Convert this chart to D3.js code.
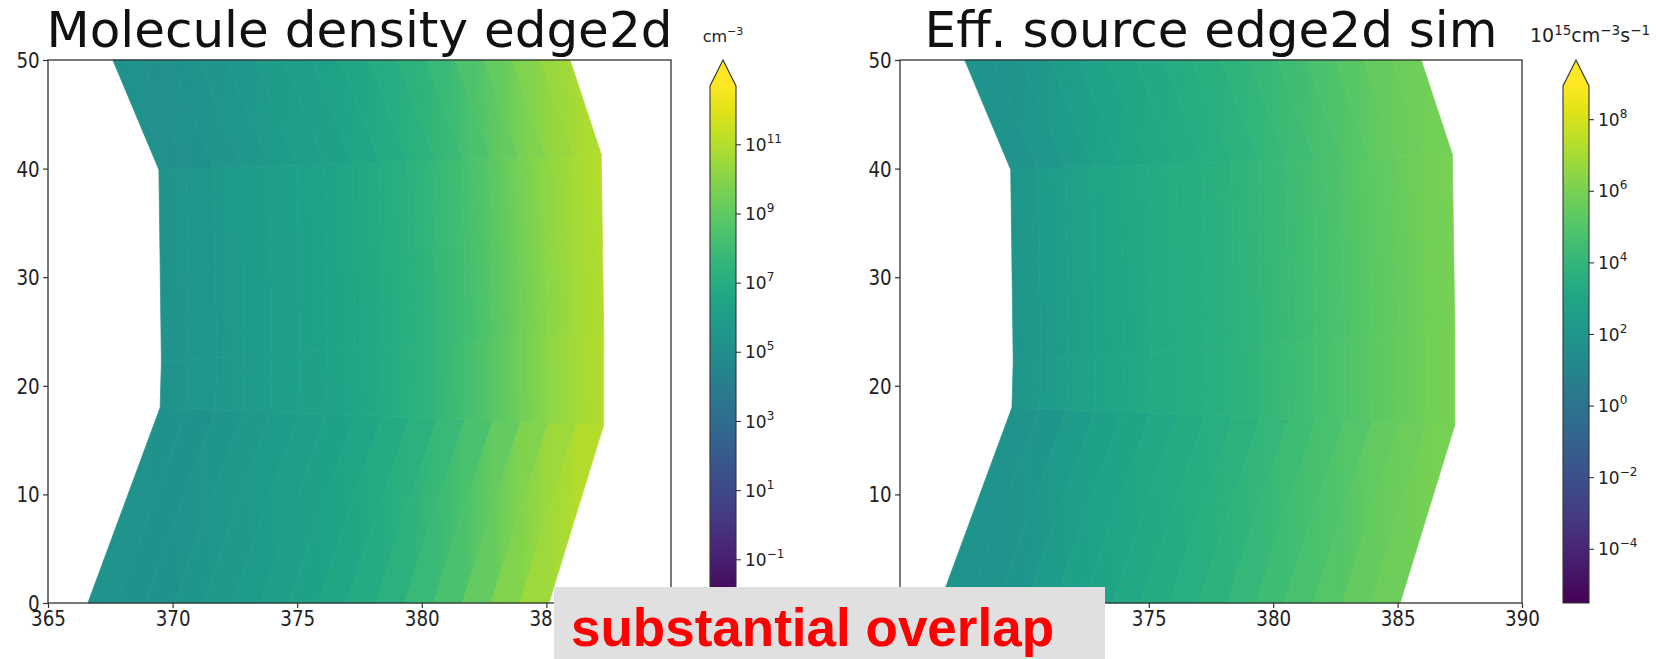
<!DOCTYPE html>
<html><head><meta charset="utf-8">
<script src="https://cdn.jsdelivr.net/npm/d3@7"></script>
<style>html,body{margin:0;padding:0;background:#fff;} svg{display:block;}</style>
</head><body>
<svg id="chart" width="1656" height="659"></svg>
<script>
// ---------------- data ----------------
const xTicks = [365, 370, 375, 380, 385, 390];
const yTicks = [0, 10, 20, 30, 40, 50];
const xDomain = [365, 390];
const yDomain = [0, 50];
const titles = ["Molecule density edge2d", "Eff. source edge2d sim"];
const densityExponents = [-1, 1, 3, 5, 7, 9, 11];
const sourceExponents = [-4, -2, 0, 2, 4, 6, 8];
const densityLogRange = [-2.25, 12.7];
const sourceLogRange = [-5.5, 8.94];
const densityUnit = [["cm", false], ["\u22123", true]];
const sourceUnit = [["10", false], ["15", true], ["cm", false], ["\u22123", true], ["s", false], ["\u22121", true]];
const overlapNote = "substantial overlap";

// mesh bands (y and x of the inner/left and outer/right boundaries)
const bandBottomYL = [0, 18.0, 22.2, 39.9];
const bandTopYL    = [18.0, 22.2, 39.9, 50];
const bandBottomYR = [0, 16.4, 25.0, 41.3];
const bandTopYR    = [16.4, 25.0, 41.3, 50];
const bandBottomXL = [366.6, 369.5, 369.55, 369.45];
const bandTopXL    = [369.5, 369.55, 369.45, 367.6];
const bandBottomXR = [385.1, 387.3, 387.3, 387.2];
const bandTopXR    = [387.3, 387.3, 387.2, 385.95];
const colFrac = [0, 0.0625, 0.125, 0.1875, 0.25, 0.3125, 0.375, 0.4375, 0.5,
                 0.5625, 0.625, 0.6875, 0.75, 0.8125, 0.875, 0.9375, 1];

// log10 values at mesh nodes, per band (bottom -> top)
const densityBand1 = [5.45, 5.3, 5.4, 5.6, 5.8, 5.97, 6.13, 6.3, 6.55, 6.9, 7.3, 7.8, 8.4, 9.1, 9.85, 10.5, 10.95];
const densityBand2 = [5.45, 5.57, 5.7, 5.85, 6.01, 6.17, 6.33, 6.55, 6.85, 7.23, 7.67, 8.17, 8.75, 9.43, 10.1, 10.63, 11.0];
const densityBand3 = [5.45, 5.6, 5.73, 5.87, 6.03, 6.18, 6.35, 6.57, 6.87, 7.25, 7.7, 8.2, 8.77, 9.45, 10.13, 10.65, 11.0];
const densityBand4 = [5.4, 5.25, 5.35, 5.55, 5.75, 5.95, 6.13, 6.33, 6.6, 6.95, 7.35, 7.85, 8.45, 9.1, 9.8, 10.4, 10.85];
const sourceBand1 = [2.0, 1.9, 2.1, 2.4, 2.7, 2.95, 3.15, 3.35, 3.55, 3.8, 4.1, 4.4, 4.75, 5.1, 5.45, 5.72, 5.9];
const sourceBand2 = [2.05, 2.3, 2.6, 2.85, 3.05, 3.25, 3.4, 3.55, 3.75, 4.05, 4.3, 4.6, 4.9, 5.25, 5.55, 5.8, 6.0];
const sourceBand3 = [2.05, 2.32, 2.6, 2.85, 3.05, 3.25, 3.42, 3.57, 3.77, 4.05, 4.3, 4.6, 4.9, 5.25, 5.55, 5.8, 6.0];
const sourceBand4 = [2.0, 1.95, 2.2, 2.5, 2.8, 3.0, 3.2, 3.4, 3.6, 3.85, 4.15, 4.45, 4.8, 5.15, 5.45, 5.7, 5.85];

// ---------------- layout ----------------
const svg = d3.select("#chart");
const defs = svg.append("defs");
const plotTop = 60, plotBottom = 603;
const cbW = 26, cbTop = 86, cbTip = 60;
const panels = [
  {x0: 48, x1: 671, cbx: 710, title: titles[0], bands: [densityBand1, densityBand2, densityBand3, densityBand4],
   range: densityLogRange, exps: densityExponents, unit: densityUnit, unitX: 723, unitSize: 16, unitSup: 11},
  {x0: 900, x1: 1522, cbx: 1563, title: titles[1], bands: [sourceBand1, sourceBand2, sourceBand3, sourceBand4],
   range: sourceLogRange, exps: sourceExponents, unit: sourceUnit, unitX: 1590, unitSize: 19, unitSup: 13.5}
];
const tickFont = "'DejaVu Sans', sans-serif";

panels.forEach((p, pi) => {
  const x = d3.scaleLinear().domain(xDomain).range([p.x0, p.x1]);
  const y = d3.scaleLinear().domain(yDomain).range([plotBottom, plotTop]);
  const color = d3.scaleSequential(d3.interpolateViridis).domain(p.range).clamp(true);
  const g = svg.append("g");

  // mesh cells
  p.bands.forEach((vals, b) => {
    const nodeB = f => [bandBottomXL[b] + f * (bandBottomXR[b] - bandBottomXL[b]),
                        bandBottomYL[b] + f * (bandBottomYR[b] - bandBottomYL[b])];
    const nodeT = f => [bandTopXL[b] + f * (bandTopXR[b] - bandTopXL[b]),
                        bandTopYL[b] + f * (bandTopYR[b] - bandTopYL[b])];
    for (let i = 0; i < colFrac.length - 1; i++) {
      const pts = [nodeB(colFrac[i]), nodeB(colFrac[i + 1]), nodeT(colFrac[i + 1]), nodeT(colFrac[i])]
        .map(d => [x(d[0]), y(d[1])]);
      const id = `g${pi}_${b}_${i}`;
      const lg = defs.append("linearGradient").attr("id", id).attr("gradientUnits", "userSpaceOnUse")
        .attr("x1", (pts[0][0] + pts[3][0]) / 2).attr("x2", (pts[1][0] + pts[2][0]) / 2)
        .attr("y1", (pts[0][1] + pts[3][1]) / 2).attr("y2", (pts[1][1] + pts[2][1]) / 2);
      lg.append("stop").attr("offset", 0).attr("stop-color", color(vals[i]));
      lg.append("stop").attr("offset", 1).attr("stop-color", color(vals[i + 1]));
      g.append("polygon").attr("points", pts.map(d => d.join(",")).join(" "))
        .attr("fill", `url(#${id})`).attr("stroke", `url(#${id})`).attr("stroke-width", 0.7);
    }
  });

  // axes
  const xa = g.append("g").attr("transform", `translate(0,${plotBottom})`)
    .call(d3.axisBottom(x).tickValues(xTicks).tickSize(5).tickPadding(3).tickFormat(d3.format("d")));
  const ya = g.append("g").attr("transform", `translate(${p.x0},0)`)
    .call(d3.axisLeft(y).tickValues(yTicks).tickSize(5).tickPadding(3).tickFormat(d3.format("d")));
  [xa, ya].forEach(a => {
    a.select(".domain").remove();
    a.selectAll("line").attr("stroke", "#333").attr("stroke-width", 1.2);
    a.selectAll("text").attr("font-family", tickFont).attr("font-size", 21).attr("fill", "#222");
  });
  xa.selectAll("text").attr("transform", "scale(0.87,1)");
  ya.selectAll("text").attr("transform", "scale(0.87,1)").attr("x", -9.5).attr("dy", "0.36em");
  g.append("rect").attr("x", p.x0).attr("y", plotTop).attr("width", p.x1 - p.x0).attr("height", plotBottom - plotTop)
    .attr("fill", "none").attr("stroke", "#333").attr("stroke-width", 1.3);

  // title
  g.append("text").attr("x", (p.x0 + p.x1) / 2).attr("y", 47).attr("text-anchor", "middle")
    .attr("font-family", "'DejaVu Sans', sans-serif").attr("font-size", 50).attr("fill", "#111").text(p.title);

  // colorbar
  const cs = d3.scaleLinear().domain(p.range).range([plotBottom, cbTop]);
  const cid = `cb${pi}`;
  const cg = defs.append("linearGradient").attr("id", cid).attr("x1", 0).attr("x2", 0).attr("y1", 1).attr("y2", 0);
  d3.range(0, 1.0001, 0.05).forEach(t => cg.append("stop").attr("offset", t).attr("stop-color", d3.interpolateViridis(t)));
  g.append("rect").attr("x", p.cbx).attr("y", cbTop).attr("width", cbW).attr("height", plotBottom - cbTop).attr("fill", `url(#${cid})`);
  g.append("path").attr("d", `M${p.cbx},${cbTop} L${p.cbx + cbW / 2},${cbTip} L${p.cbx + cbW},${cbTop} Z`)
    .attr("fill", d3.interpolateViridis(1));
  g.append("path").attr("d", `M${p.cbx},${plotBottom} L${p.cbx},${cbTop} L${p.cbx + cbW / 2},${cbTip} L${p.cbx + cbW},${cbTop} L${p.cbx + cbW},${plotBottom} Z`)
    .attr("fill", "none").attr("stroke", "#333").attr("stroke-width", 1.1);
  const ct = g.append("g").selectAll("g").data(p.exps).join("g")
    .attr("transform", d => `translate(${p.cbx + cbW},${cs(d)})`);
  ct.append("line").attr("x1", 0).attr("x2", 5).attr("stroke", "#333").attr("stroke-width", 1.1);
  const tt = ct.append("text").attr("x", 9).attr("dy", "0.36em").attr("font-family", tickFont)
    .attr("font-size", 17).attr("fill", "#222");
  tt.append("tspan").text("10");
  tt.append("tspan").attr("dy", -8).attr("font-size", 12).text(d => (d < 0 ? "\u2212" + Math.abs(d) : d));

  // unit label
  const ut = g.append("text").attr("x", p.unitX).attr("y", 42).attr("text-anchor", "middle")
    .attr("font-family", tickFont).attr("font-size", p.unitSize).attr("fill", "#222");
  p.unit.forEach(([s, sup], k) => {
    const prevSup = k > 0 && p.unit[k - 1][1];
    const ts = ut.append("tspan").text(s);
    if (sup) ts.attr("font-size", p.unitSup).attr("dy", -7);
    else { ts.attr("font-size", p.unitSize); if (prevSup) ts.attr("dy", 7); }
  });
});

// annotation box
svg.append("rect").attr("x", 554).attr("y", 587).attr("width", 551).attr("height", 72).attr("fill", "#e0e0e0");
svg.append("text").attr("x", 571).attr("y", 646).attr("font-family", "'Liberation Sans', Arial, sans-serif")
  .attr("font-weight", "bold").attr("font-size", 53).attr("fill", "#ff0000").text(overlapNote);
</script>
</body></html>
